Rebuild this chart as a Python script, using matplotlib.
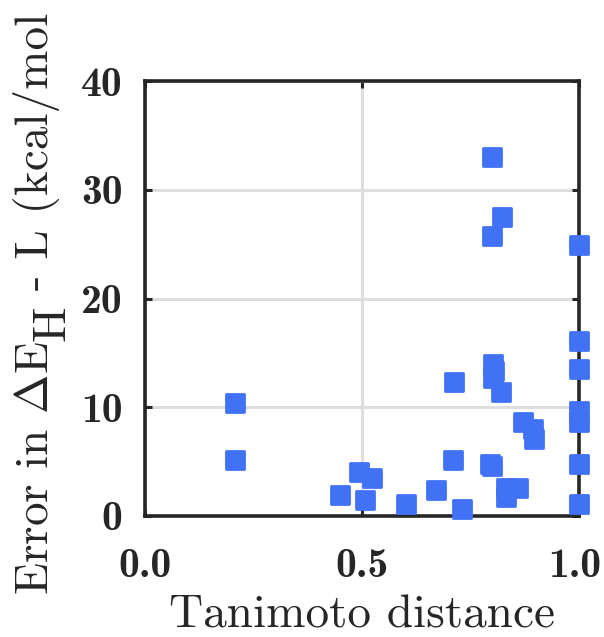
import matplotlib
matplotlib.use("Agg")
import matplotlib.pyplot as plt
from matplotlib.markers import MarkerStyle
from matplotlib.transforms import Bbox, TransformedBbox, ScaledTranslation

# Tanimoto distance vs. error in the H-L gap
tanimoto = [0.207, 0.207, 0.450, 0.493, 0.506, 0.524, 0.601, 0.671, 0.709,
            0.713, 0.730, 0.795, 0.800, 0.799, 0.822, 0.799, 0.801, 0.805,
            0.803, 0.821, 0.832, 0.832, 0.859, 0.870, 0.893, 0.897,
            1.0, 1.0, 1.0, 1.0, 1.0, 1.0, 1.0]
gap_error = [10.4, 5.15, 1.95, 4.08, 1.49, 3.46, 1.09, 2.38, 5.15,
             12.3, 0.63, 4.8, 4.6, 33.0, 27.5, 25.8, 14.0, 13.3,
             12.7, 11.4, 2.6, 1.73, 2.6, 8.6, 8.0, 7.1,
             24.9, 16.1, 13.5, 9.7, 8.6, 4.8, 1.1]

x_ticks = [0.0, 0.5, 1.0]
x_ticklabels = ["0.0", "0.5", "1.0"]
y_ticks = [0, 10, 20, 30, 40]
y_ticklabels = ["0", "10", "20", "30", "40"]

# y label pieces: text, then a lowered "H", then the rest
ylabel_parts = [r"Error in $\Delta$E", "H", " - L (kcal/mol)"]

W, H = 604, 637
TXT = "#262626"

plt.rcParams["mathtext.fontset"] = "cm"
plt.rcParams["axes.formatter.use_mathtext"] = True

fig = plt.figure(figsize=(W / 100, H / 100), dpi=100)
ax = fig.add_axes([0.240, 0.190, 0.7186, 0.6826])

marker = MarkerStyle("s", joinstyle="round")
ax.scatter(tanimoto, gap_error, marker=marker, s=175, color="#4171f5",
           edgecolors="#4171f5", linewidths=2.0, zorder=3, clip_on=False)

ax.set_xlim(0, 1)
ax.set_ylim(0, 40)
ax.set_xticks(x_ticks)
ax.set_yticks(y_ticks)
ax.set_xticklabels(x_ticklabels, fontfamily="cmb10", fontsize=30)
ax.set_yticklabels(y_ticklabels, fontfamily="cmb10", fontsize=30)
ax.tick_params(direction="in", length=5, width=2.2, color=TXT,
               top=True, right=True, labelcolor=TXT)
ax.tick_params(axis="x", pad=23)
ax.tick_params(axis="y", pad=16)

# pull the last x label in a touch so it stays on the canvas
last = ax.get_xticklabels()[-1]
last.set_transform(last.get_transform()
                   + ScaledTranslation(-4 / 100, 0, fig.dpi_scale_trans))

ax.grid(True, color="#dedede", linewidth=2.2)
ax.set_axisbelow(True)
for sp in ax.spines.values():
    sp.set_linewidth(2.6)
    sp.set_color(TXT)

ax.set_xlabel("Tanimoto distance", fontfamily="cmr10", fontsize=34,
              color=TXT, labelpad=7)


def px(x, y):
    return x / W, 1 - y / H


# rotated y label, built piece by piece along the baseline
fig.canvas.draw()
renderer = fig.canvas.get_renderer()
base_x, start_y, drop = 48, 595, 17
y = start_y
for i, part in enumerate(ylabel_parts):
    bx = base_x + drop if part == "H" else base_x
    t = fig.text(*px(bx, y), part, rotation=90, rotation_mode="anchor",
                 ha="left", va="baseline", fontfamily="cmr10", fontsize=34,
                 color=TXT)
    if i == len(ylabel_parts) - 1:
        t.set_clip_box(TransformedBbox(Bbox([[0, 0], [1, 1 - 13 / H]]),
                                       fig.transFigure))
        t.set_clip_on(True)
    y -= t.get_window_extent(renderer).height

fig.savefig("out.png", dpi=100)
